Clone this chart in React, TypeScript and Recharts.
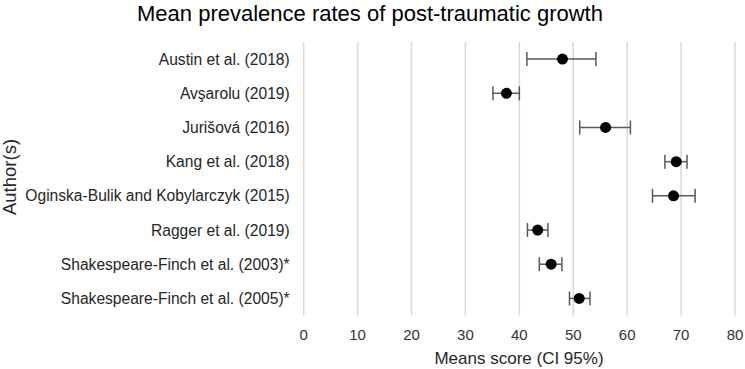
import { ScatterChart, Scatter, XAxis, YAxis, CartesianGrid, ErrorBar } from 'recharts'

const authors = [
  'Austin et al. (2018)',
  'Avşarolu (2019)',
  'Jurišová (2016)',
  'Kang et al. (2018)',
  'Oginska-Bulik and Kobylarczyk (2015)',
  'Ragger et al. (2019)',
  'Shakespeare-Finch et al. (2003)*',
  'Shakespeare-Finch et al. (2005)*',
]
const means = [48.0, 37.6, 56.0, 69.1, 68.6, 43.4, 45.9, 51.1]
const ciLow = [41.4, 35.1, 51.2, 67.0, 64.7, 41.5, 43.7, 49.3]
const ciHigh = [54.2, 40.0, 60.6, 71.1, 72.6, 45.3, 47.9, 53.1]
const xTicks = [0, 10, 20, 30, 40, 50, 60, 70, 80]

const data = authors.map((author, i) => ({
  author,
  mean: means[i],
  err: [means[i] - ciLow[i], ciHigh[i] - means[i]],
}))

const FONT = '"Liberation Sans", Arial, sans-serif'

const Dot = (props: any) => <circle cx={props.cx} cy={props.cy} r={5.5} fill="#000" />

export default function App() {
  return (
    <div style={{ position: 'absolute', left: 0, top: 0, background: '#fff' }}>
      <ScatterChart
        width={745}
        height={369}
        data={data}
        layout="vertical"
        margin={{ top: 42, right: 10, bottom: 0, left: 0 }}
        style={{ fontFamily: FONT }}
      >
        <CartesianGrid horizontal={false} stroke="#d9d9d9" strokeWidth={1.5} />
        <XAxis
          type="number"
          dataKey="mean"
          domain={[0, 80]}
          ticks={xTicks}
          axisLine={false}
          tickLine={false}
          tickSize={0}
          tickMargin={14}
          height={53.5}
          tick={{ fill: '#333', fontSize: 15 }}
        />
        <YAxis
          type="category"
          dataKey="author"
          width={303.7}
          axisLine={false}
          tickLine={false}
          tickSize={0}
          tickMargin={14}
          interval={0}
          tick={{ fill: '#262626', fontSize: 15.6 }}
        />
        <Scatter dataKey="mean" shape={Dot} isAnimationActive={false}>
          <ErrorBar dataKey="err" direction="x" width={7} stroke="#595959" strokeWidth={1.5} />
        </Scatter>
        <text x={370} y={21} textAnchor="middle" fontSize={22} fill="#000">
          Mean prevalence rates of post-traumatic growth
        </text>
        <text x={519} y={364} textAnchor="middle" fontSize={17} fill="#262626">
          Means score (CI 95%)
        </text>
        <text
          x={9.5}
          y={177}
          textAnchor="middle"
          dominantBaseline="central"
          fontSize={18.5}
          fill="#262626"
          transform="rotate(-90 9.5 177)"
        >
          Author(s)
        </text>
      </ScatterChart>
    </div>
  )
}
